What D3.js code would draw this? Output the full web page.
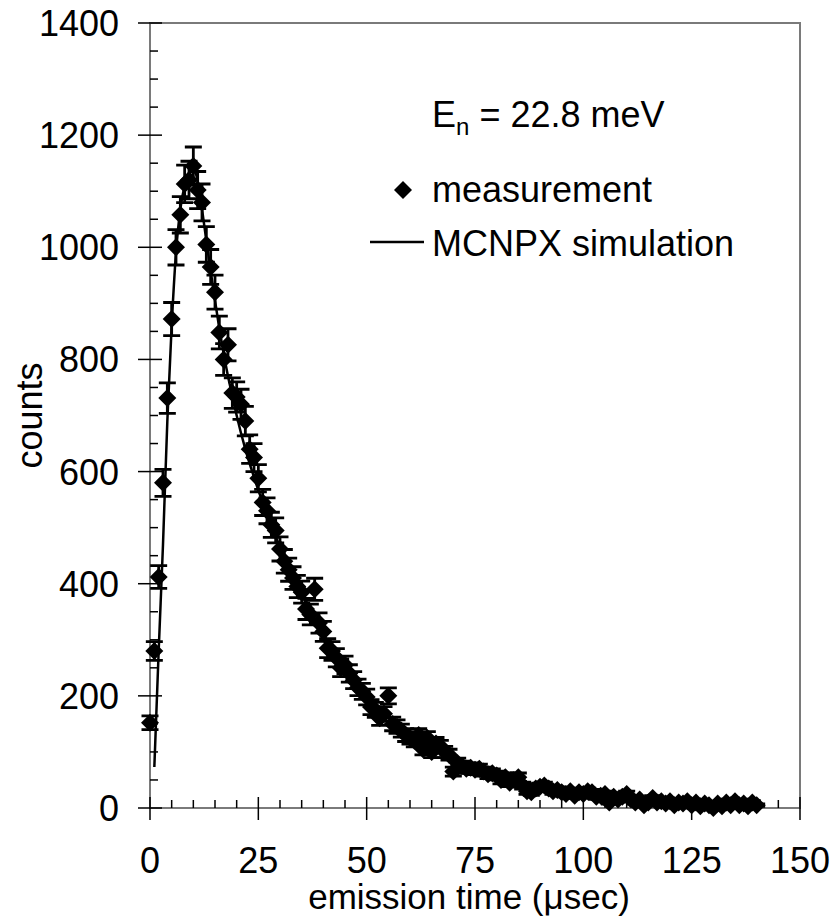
<!DOCTYPE html>
<html>
<head>
<meta charset="utf-8">
<script src="https://cdn.jsdelivr.net/npm/d3@7"></script>
<style>
  html, body { margin: 0; padding: 0; background: #fff; }
  svg { display: block; }
  text { font-family: "Liberation Sans", Arial, sans-serif; fill: #000; }
</style>
</head>
<body>
<script>
// Measured counts, one per 1 µs bin starting at t = 0.
const measCounts = [
  152, 280, 412, 580, 731, 872, 1000, 1058, 1113, 1120,
  1145, 1102, 1080, 1005, 965, 920, 848, 800, 826, 740,
  733, 720, 690, 640, 625, 588, 545, 530, 505, 495,
  462, 440, 425, 410, 395, 385, 355, 345, 390, 330,
  315, 285, 280, 268, 250, 255, 240, 228, 215, 208,
  198, 180, 175, 160, 168, 200, 150, 145, 138, 130,
  125, 120, 130, 105, 125, 100, 115, 110, 100, 95,
  65, 80, 75, 70, 72, 68, 70, 65, 60, 62,
  58, 50, 55, 45, 50, 55, 40, 30, 28, 35,
  38, 40, 35, 30, 32, 28, 25, 30, 22, 28,
  25, 30, 28, 20, 22, 25, 10, 20, 15, 20,
  25, 15, 10, 15, 5, 10, 18, 10, 12, 8,
  12, 5, 10, 8, 12, 5, 10, 3, 8, 5,
  0, 8, 3, 10, 5, 12, 5, 8, 3, 10, 5
];
const measTime = d3.range(measCounts.length);

// MCNPX simulation curve.
const simTime = [1, 2, 3, 4, 5, 6, 7, 8, 9, 10, 11, 12, 13, 14, 15, 16, 17, 18, 19, 20,
  22, 24, 26, 28, 30, 32, 34, 36, 38, 40, 42, 44, 46, 48, 50, 52, 54, 56, 58, 60,
  62, 65, 70, 75, 80, 85, 90, 95, 100, 105, 110, 115, 120, 125, 130, 135, 140];
const simCounts = [73, 280, 470, 690, 860, 990, 1068, 1110, 1132, 1140, 1118, 1068, 1012, 958, 905, 855, 810, 770, 735, 700,
  640, 590, 545, 505, 465, 430, 395, 365, 335, 310, 285, 262, 240, 220, 200, 183, 168, 154, 142, 130,
  120, 106, 88, 72, 60, 50, 40, 33, 27, 22, 18, 14, 11, 9, 7, 5, 4];

const xTicks = [0, 25, 50, 75, 100, 125, 150];
const yTicks = [0, 200, 400, 600, 800, 1000, 1200, 1400];

const W = 836, H = 920;
const M = { left: 150, right: 800, top: 23, bottom: 808 };

const svg = d3.select("body").append("svg").attr("width", W).attr("height", H);

const x = d3.scaleLinear().domain([0, 150]).range([M.left, M.right]);
const y = d3.scaleLinear().domain([0, 1400]).range([M.bottom, M.top]);

// Frame (top and right) and axes lines.
const AX = "#7a7a7a";
svg.append("rect")
  .attr("x", M.left).attr("y", M.top)
  .attr("width", M.right - M.left).attr("height", M.bottom - M.top)
  .attr("fill", "none").attr("stroke", AX).attr("stroke-width", 2);

// Minor ticks, inside only.
const ticks = svg.append("g").attr("stroke", "#000").attr("stroke-width", 1.5);
ticks.selectAll(".xm").data(d3.range(5, 150, 5).filter((d) => d % 25))
  .join("line")
  .attr("x1", (d) => x(d)).attr("x2", (d) => x(d))
  .attr("y1", M.bottom).attr("y2", M.bottom - 8);
ticks.selectAll(".ym").data(d3.range(50, 1400, 50).filter((d) => d % 200))
  .join("line")
  .attr("x1", M.left).attr("x2", M.left + 8)
  .attr("y1", (d) => y(d)).attr("y2", (d) => y(d));

// Major ticks crossing the axis.
ticks.selectAll(".xM").data(xTicks)
  .join("line")
  .attr("x1", (d) => x(d)).attr("x2", (d) => x(d))
  .attr("y1", M.bottom - 11).attr("y2", M.bottom + 12);
ticks.selectAll(".yM").data(yTicks)
  .join("line")
  .attr("x1", M.left - 12).attr("x2", M.left + 12)
  .attr("y1", (d) => y(d)).attr("y2", (d) => y(d));

// Tick labels.
svg.append("g").selectAll("text").data(xTicks).join("text")
  .attr("x", (d) => x(d)).attr("y", 873)
  .attr("text-anchor", "middle").attr("font-size", 36)
  .text((d) => d);
svg.append("g").selectAll("text").data(yTicks).join("text")
  .attr("x", 119).attr("y", (d) => y(d) + 13)
  .attr("text-anchor", "end").attr("font-size", 36)
  .text((d) => d);

// Axis titles.
svg.append("text")
  .attr("x", 469).attr("y", 909)
  .attr("text-anchor", "middle").attr("font-size", 35)
  .text("emission time (\u03bcsec)");
svg.append("text")
  .attr("transform", "translate(42," + (M.top + M.bottom) / 2 + ") rotate(-90)")
  .attr("text-anchor", "middle").attr("font-size", 36)
  .text("counts");

// Measurement: error bars (Poisson, sqrt of counts) and diamonds.
const meas = measTime.map((t, i) => ({ t: t, c: measCounts[i], e: Math.sqrt(measCounts[i]) }));
const CAP = 8.5;
const eb = svg.append("g").attr("stroke", "#000").attr("stroke-width", 2.8);
eb.selectAll("g").data(meas).join("path")
  .attr("fill", "none")
  .attr("d", (d) => {
    const px = x(d.t), y1 = y(d.c + d.e), y0 = y(Math.max(0, d.c - d.e));
    return "M" + px + "," + y1 + "V" + y0 +
      "M" + (px - CAP) + "," + y1 + "H" + (px + CAP) +
      "M" + (px - CAP) + "," + y0 + "H" + (px + CAP);
  });

const R = 9;
const diamond = "M0," + -R + "L" + R + ",0L0," + R + "L" + -R + ",0Z";
svg.append("g").selectAll("path").data(meas).join("path")
  .attr("d", diamond)
  .attr("transform", (d) => "translate(" + x(d.t) + "," + y(d.c) + ")")
  .attr("fill", "#000");

// Simulation line.
const sim = simTime.map((t, i) => [t, simCounts[i]]);
svg.append("path")
  .datum(sim)
  .attr("fill", "none").attr("stroke", "#000").attr("stroke-width", 2.5)
  .attr("d", d3.line().x((d) => x(d[0])).y((d) => y(d[1])).curve(d3.curveMonotoneX));

// Legend.
const lg = svg.append("g");
const en = lg.append("text").attr("x", 432).attr("y", 127).attr("font-size", 36);
en.append("tspan").text("E");
en.append("tspan").attr("font-size", 24).attr("dy", 8).text("n");
en.append("tspan").attr("dy", -8).text(" = 22.8 meV");

lg.append("path").attr("d", diamond).attr("transform", "translate(403,190)").attr("fill", "#000");
lg.append("text").attr("x", 432).attr("y", 202).attr("font-size", 36).text("measurement");
lg.append("line").attr("x1", 370).attr("x2", 424).attr("y1", 242).attr("y2", 242)
  .attr("stroke", "#000").attr("stroke-width", 2.5);
lg.append("text").attr("x", 432).attr("y", 256).attr("font-size", 36).text("MCNPX simulation");
</script>
</body>
</html>
